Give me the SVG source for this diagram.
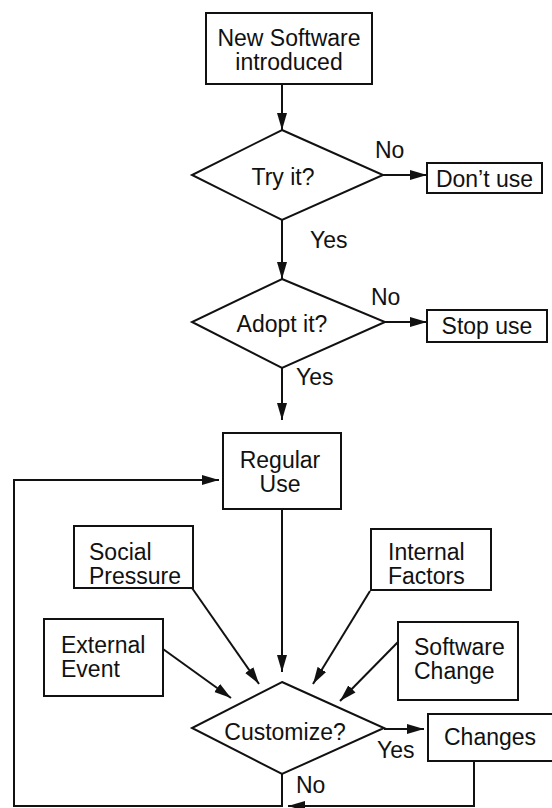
<svg xmlns="http://www.w3.org/2000/svg" width="552" height="808" viewBox="0 0 552 808">
<defs>
<style>
.box{fill:#fff;stroke:#111;stroke-width:2}
.t{font-family:"Liberation Sans",Arial,sans-serif;font-size:23px;fill:#111}
.c{fill:none;stroke:#111;stroke-width:2}
</style>
<marker id="ah" markerUnits="userSpaceOnUse" markerWidth="18" markerHeight="12" refX="17" refY="6" orient="auto">
<path d="M0,1 L17,6 L0,11 Z" fill="#111"/>
</marker>
</defs>
<rect width="552" height="808" fill="#fff"/>
<g id="connectors">
<line class="c" x1="282" y1="84" x2="282" y2="130" marker-end="url(#ah)"/>
<line class="c" x1="383" y1="175" x2="427" y2="175" marker-end="url(#ah)"/>
<line class="c" x1="282" y1="220" x2="282" y2="279" marker-end="url(#ah)"/>
<line class="c" x1="385" y1="322" x2="427" y2="322" marker-end="url(#ah)"/>
<line class="c" x1="282" y1="368" x2="282" y2="420" marker-end="url(#ah)"/>
<line class="c" x1="282" y1="509" x2="282" y2="672" marker-end="url(#ah)"/>
<line class="c" x1="192" y1="588" x2="259" y2="684" marker-end="url(#ah)"/>
<line class="c" x1="370" y1="591" x2="313" y2="684" marker-end="url(#ah)"/>
<line class="c" x1="163" y1="649" x2="231" y2="698" marker-end="url(#ah)"/>
<line class="c" x1="398" y1="642" x2="340" y2="701" marker-end="url(#ah)"/>
<line class="c" x1="384" y1="729" x2="424" y2="729" marker-end="url(#ah)"/>
<polyline class="c" points="282,774 282,806 14,806 14,480 219,480" marker-end="url(#ah)"/>
<polyline class="c" points="474,761 474,806 288,806" marker-end="url(#ah)"/>
</g>
<g id="new-software">
<rect class="box" x="206" y="13" width="166" height="71"/>
<text class="t" x="289" y="46" text-anchor="middle">New Software</text>
<text class="t" x="289" y="70" text-anchor="middle">introduced</text>
</g>
<g id="try-it">
<polygon class="box" points="282,130 383,175 282,220 192,175"/>
<text class="t" x="283" y="185" text-anchor="middle">Try it?</text>
<text class="t" x="375" y="158">No</text>
<text class="t" x="310" y="248">Yes</text>
</g>
<g id="dont-use">
<rect class="box" x="427" y="163" width="115" height="30"/>
<text class="t" x="484.5" y="187" text-anchor="middle">Don’t use</text>
</g>
<g id="adopt-it">
<polygon class="box" points="282,279 385,322 282,368 192,322"/>
<text class="t" x="282" y="332" text-anchor="middle">Adopt it?</text>
<text class="t" x="371" y="305">No</text>
<text class="t" x="296" y="385">Yes</text>
</g>
<g id="stop-use">
<rect class="box" x="427" y="310" width="120" height="32"/>
<text class="t" x="487" y="334" text-anchor="middle">Stop use</text>
</g>
<g id="regular-use">
<rect class="box" x="223" y="433" width="118" height="76"/>
<text class="t" x="280" y="468" text-anchor="middle">Regular</text>
<text class="t" x="280" y="492" text-anchor="middle">Use</text>
</g>
<g id="social-pressure">
<rect class="box" x="74" y="526" width="119" height="62"/>
<text class="t" x="89" y="560">Social</text>
<text class="t" x="89" y="584">Pressure</text>
</g>
<g id="internal-factors">
<rect class="box" x="371" y="529" width="120" height="61"/>
<text class="t" x="388" y="560">Internal</text>
<text class="t" x="388" y="584">Factors</text>
</g>
<g id="external-event">
<rect class="box" x="44" y="619" width="119" height="77"/>
<text class="t" x="61" y="653">External</text>
<text class="t" x="61" y="677">Event</text>
</g>
<g id="software-change">
<rect class="box" x="398" y="622" width="120" height="78"/>
<text class="t" x="414" y="655">Software</text>
<text class="t" x="414" y="679">Change</text>
</g>
<g id="customize">
<polygon class="box" points="282,682 384,728 282,774 192,728"/>
<text class="t" x="285" y="740" text-anchor="middle">Customize?</text>
<text class="t" x="377" y="758">Yes</text>
<text class="t" x="296" y="793">No</text>
</g>
<g id="changes">
<rect class="box" x="428" y="714" width="132" height="47"/>
<text class="t" x="444" y="745">Changes</text>
</g>
</svg>
